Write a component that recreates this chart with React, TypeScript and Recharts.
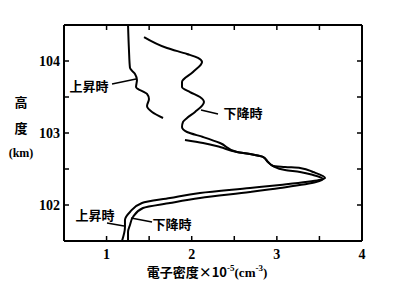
import React from 'react';
import { ScatterChart, Scatter, XAxis, YAxis, ReferenceLine } from 'recharts';

// 下降時 (descent) profile
const descentDensity = [1.44, 1.71, 1.945, 2.074, 2.121, 2.015, 1.886, 1.886, 1.98, 2.097, 2.144, 2.039, 1.945, 1.898, 1.886, 1.945, 2.133, 2.332, 2.532, 2.685, 2.837, 2.896, 2.955, 3.096, 3.272, 3.425, 3.542, 3.46, 3.037, 2.685, 2.097, 1.745, 1.428, 1.31, 1.275, 1.252, 1.252];
const descentAltitude = [104.333, 104.181, 104.097, 104.042, 103.986, 103.847, 103.708, 103.639, 103.569, 103.5, 103.431, 103.292, 103.208, 103.153, 103.083, 103.014, 102.944, 102.861, 102.736, 102.708, 102.667, 102.597, 102.542, 102.486, 102.458, 102.417, 102.361, 102.319, 102.236, 102.181, 102.097, 102.028, 101.958, 101.833, 101.722, 101.625, 101.5];

// 上昇時 (ascent) profile, upper part
const ascentUpperDensity = [1.252, 1.263, 1.275, 1.334, 1.357, 1.346, 1.475, 1.498, 1.475, 1.534, 1.663];
const ascentUpperAltitude = [104.5, 104.153, 103.903, 103.819, 103.736, 103.639, 103.542, 103.472, 103.375, 103.292, 103.208];

// 上昇時 (ascent) profile, lower part
const ascentLowerDensity = [1.921, 2.133, 2.332, 2.532, 2.685, 2.837, 2.896, 2.955, 3.096, 3.272, 3.425, 3.566, 3.495, 3.037, 2.685, 2.097, 1.745, 1.416, 1.275, 1.216, 1.216, 1.181];
const ascentLowerAltitude = [102.903, 102.861, 102.806, 102.736, 102.708, 102.667, 102.597, 102.542, 102.528, 102.514, 102.458, 102.375, 102.347, 102.278, 102.236, 102.167, 102.097, 102.028, 101.903, 101.792, 101.694, 101.5];

const xMajorTicks = [1, 2, 3, 4];
const xAllTicks = [0.5, 1, 1.5, 2, 2.5, 3, 3.5, 4];
const yMajorTicks = [102, 103, 104];
const yAllTicks = [101.5, 102, 102.5, 103, 103.5, 104, 104.5];
const xDomain = [0.5, 4];
const yDomain = [101.5, 104.5];

// annotation pointers (data coordinates)
const pointerAscentUpper = [{ x: 1.064, y: 103.68 }, { x: 1.346, y: 103.75 }];
const pointerDescentUpper = [{ x: 2.109, y: 103.319 }, { x: 2.309, y: 103.264 }];
const pointerAscentLower = [{ x: 1.005, y: 101.75 }, { x: 1.205, y: 101.708 }];
const pointerDescentLower = [{ x: 1.287, y: 101.819 }, { x: 1.534, y: 101.764 }];

const zip = (xs: number[], ys: number[]) => xs.map((x, i) => ({ x, y: ys[i] }));
const descentData = zip(descentDensity, descentAltitude);
const ascentUpperData = zip(ascentUpperDensity, ascentUpperAltitude);
const ascentLowerData = zip(ascentLowerDensity, ascentLowerAltitude);

const numFont = '"Liberation Serif", "DejaVu Serif", serif';
const cjkFont = '"Noto Sans CJK JP", "Noto Sans CJK SC", sans-serif';
const TICK = 5;

const BottomTick = (props: any) => {
  const { x, y, payload } = props;
  const major = xMajorTicks.includes(payload.value);
  return (
    <g>
      <line x1={x} x2={x} y1={y} y2={y - TICK} stroke="#000" strokeWidth={1.5} />
      {major && (
        <text x={x} y={y + 18} textAnchor="middle" fontFamily={numFont} fontWeight="bold" fontSize={14} fill="#000">
          {payload.value}
        </text>
      )}
    </g>
  );
};
const TopTick = (props: any) => {
  const { x, y } = props;
  return <line x1={x} x2={x} y1={y} y2={y + TICK} stroke="#000" strokeWidth={1.5} />;
};
const LeftTick = (props: any) => {
  const { x, y, payload } = props;
  const major = yMajorTicks.includes(payload.value);
  return (
    <g>
      <line x1={x} x2={x + TICK} y1={y} y2={y} stroke="#000" strokeWidth={1.5} />
      {major && (
        <text x={x - 4} y={y + 5} textAnchor="end" fontFamily={numFont} fontWeight="bold" fontSize={14} fill="#000">
          {payload.value}
        </text>
      )}
    </g>
  );
};
const RightTick = (props: any) => {
  const { x, y } = props;
  return <line x1={x} x2={x - TICK} y1={y} y2={y} stroke="#000" strokeWidth={1.5} />;
};

const noShape = () => <g />;
const lineStyle = { stroke: '#000', strokeWidth: 2 };
const axisLine = { stroke: '#000', strokeWidth: 2 };

export default function App() {
  return (
    <div style={{ position: 'absolute', left: 0, top: 0, width: 400, height: 294, background: '#fff' }}>
      <ScatterChart width={400} height={294} margin={{ top: 15, right: 28, bottom: 23, left: 24 }}>
        <XAxis type="number" dataKey="x" domain={xDomain} ticks={xAllTicks} allowDataOverflow height={30}
          tickSize={0} tickMargin={0} tick={<BottomTick />} tickLine={false} axisLine={axisLine} interval={0} />
        <XAxis xAxisId="top" orientation="top" type="number" dataKey="x" domain={xDomain} ticks={xAllTicks} allowDataOverflow height={10}
          tickSize={0} tickMargin={0} tick={<TopTick />} tickLine={false} axisLine={axisLine} interval={0} />
        <YAxis type="number" dataKey="y" domain={yDomain} ticks={yAllTicks} allowDataOverflow width={40}
          tickSize={0} tickMargin={0} tick={<LeftTick />} tickLine={false} axisLine={axisLine} interval={0} />
        <YAxis yAxisId="right" orientation="right" type="number" dataKey="y" domain={yDomain} ticks={yAllTicks} allowDataOverflow width={10}
          tickSize={0} tickMargin={0} tick={<RightTick />} tickLine={false} axisLine={axisLine} interval={0} />
        <Scatter data={descentData} line={lineStyle} lineJointType="monotoneY" shape={noShape} isAnimationActive={false} />
        <Scatter data={ascentUpperData} line={lineStyle} lineJointType="monotoneY" shape={noShape} isAnimationActive={false} />
        <Scatter data={ascentLowerData} line={lineStyle} lineJointType="monotoneY" shape={noShape} isAnimationActive={false} />
        <ReferenceLine segment={pointerAscentUpper} stroke="#000" strokeWidth={1.5} />
        <ReferenceLine segment={pointerDescentUpper} stroke="#000" strokeWidth={1.5} />
        <ReferenceLine segment={pointerAscentLower} stroke="#000" strokeWidth={1.5} />
        <ReferenceLine segment={pointerDescentLower} stroke="#000" strokeWidth={1.5} />
      </ScatterChart>
      <svg width={400} height={294} style={{ position: 'absolute', left: 0, top: 0, pointerEvents: 'none' }}>
        <g fontFamily={cjkFont} fontWeight="bold" fontSize={13} fill="#000">
          <text x={89} y={91} textAnchor="middle">上昇時</text>
          <text x={243} y={118} textAnchor="middle">下降時</text>
          <text x={95} y={220} textAnchor="middle">上昇時</text>
          <text x={172} y={229} textAnchor="middle">下降時</text>
          <text x={21} y={107} textAnchor="middle">高</text>
          <text x={21} y={133} textAnchor="middle">度</text>
          <text x={207} y={277} textAnchor="middle">
            電子密度×10
            <tspan fontFamily={numFont} fontSize={9} dy={-6}>-5</tspan>
            <tspan fontFamily={numFont} fontSize={13} dy={6}>(cm</tspan>
            <tspan fontFamily={numFont} fontSize={9} dy={-6}>-3</tspan>
            <tspan fontFamily={numFont} fontSize={13} dy={6}>)</tspan>
          </text>
        </g>
        <text x={21} y={157} textAnchor="middle" fontFamily={numFont} fontWeight="bold" fontSize={12} fill="#000">(km)</text>
      </svg>
    </div>
  );
}
